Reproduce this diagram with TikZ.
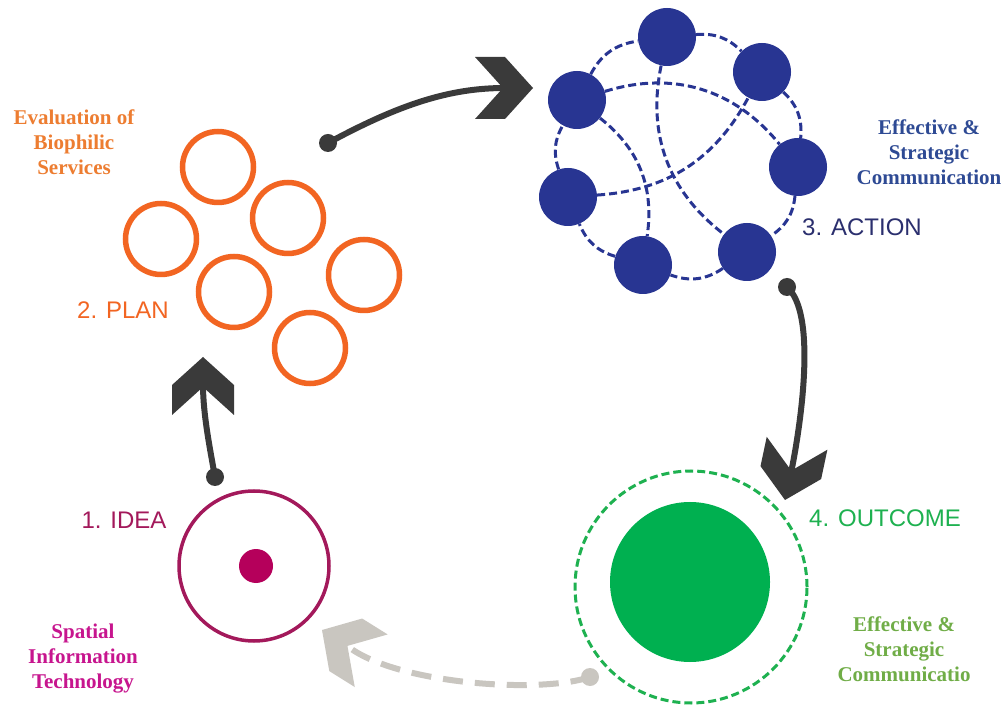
\documentclass[tikz,border=0pt]{standalone}
\usepackage{fontspec}
\setmainfont{Liberation Serif}
\newfontfamily\arialf{Liberation Sans}
\definecolor{orC}{HTML}{F26522}
\definecolor{orT}{HTML}{ED7D31}
\definecolor{navyC}{HTML}{283592}
\definecolor{navyT}{HTML}{2B2F6E}
\definecolor{blueT}{HTML}{2E4A94}
\definecolor{darkA}{HTML}{3A3A3A}
\definecolor{grayA}{HTML}{C9C6C0}
\definecolor{ideaC}{HTML}{A3195B}
\definecolor{dotC}{HTML}{B5005B}
\definecolor{greenC}{HTML}{1EB150}
\definecolor{greenF}{HTML}{00B050}
\definecolor{greenT}{HTML}{70AD47}
\definecolor{magT}{HTML}{C7158E}
\newcommand\chevshape[3]{%
  \fill[#3,shift={#1},rotate=#2] (0,0) -- (-28,31) -- (-58,31) -- (-30,0) -- (-58,-31) -- (-28,-31) -- cycle;}
\tikzset{
  ringO/.style={circle, draw=orC, line width=5.5pt, minimum size=71pt, inner sep=0pt},
  bnode/.style={circle, fill=navyC, minimum size=58pt, inner sep=0pt},
  bdash/.style={draw=navyC, line width=3pt, dash pattern=on 8pt off 4pt},
  lab/.style={align=center, inner sep=0pt, font=\bfseries\fontsize{21}{25}\selectfont},
  slab/.style={inner sep=0pt, font=\arialf\fontsize{24}{28}\selectfont},
  darrow/.style={draw=darkA, line width=6pt},
  startdot/.style={circle, inner sep=0pt, minimum size=18pt},
}
\begin{document}
\begin{tikzpicture}[x=1pt,y=1pt]
\useasboundingbox (0,0) rectangle (1008,704);
\fill[white] (0,0) rectangle (1008,704);

% PLAN circles
\node[ringO] (c1) at (218,537) {};
\node[ringO] (c2) at (161,465) {};
\node[ringO] (c3) at (288,486) {};
\node[ringO] (c4) at (234,412) {};
\node[ringO] (c5) at (364,429) {};
\node[ringO] (c6) at (310,356) {};

% ACTION network
\node[bnode] (n1) at (667,667) {};
\node[bnode] (n2) at (762,632) {};
\node[bnode] (n3) at (577,604) {};
\node[bnode] (n4) at (798,537) {};
\node[bnode] (n5) at (568,507) {};
\node[bnode] (n6) at (747,452) {};
\node[bnode] (n7) at (643,439) {};
\draw[bdash] (n1) to[bend left=25] (n2);
\draw[bdash] (n2) to[bend left=26] (n4);
\draw[bdash] (n4) to[bend left=25] (n6);
\draw[bdash] (n6) to[bend left=27] (n7);
\draw[bdash] (n7) to[bend left=25] (n5);
\draw[bdash] (n5) to[bend left=24] (n3);
\draw[bdash] (n3) to[bend left=27] (n1);
\draw[bdash] (n3) to[bend left=34] (n4);
\draw[bdash] (n5) to[bend right=29] (n2);
\draw[bdash] (n1) to[bend right=32] (n6);
\draw[bdash] (n3) to[bend left=30] (n7);

% IDEA
\node[circle, draw=ideaC, line width=3.5pt, minimum size=150pt, inner sep=0pt] (idea) at (254,138) {};
\node[circle, fill=dotC, minimum size=34pt, inner sep=0pt] (ideadot) at (256,138) {};

% OUTCOME
\node[circle, draw=greenC, line width=3pt, dash pattern=on 8pt off 4pt, minimum size=232pt, inner sep=0pt] (outc) at (691,117) {};
\node[circle, fill=greenF, minimum size=160pt, inner sep=0pt] (outf) at (690,122) {};

% Arrow 1: PLAN -> ACTION
\node[startdot, fill=darkA] (d1) at (328,561) {};
\coordinate (e1) at (505,616);
\draw[darrow] (d1.center) .. controls (400,600) and (450,616) .. (e1);
\chevshape{(533,616)}{0}{darkA}

% Arrow 2: IDEA -> PLAN
\node[startdot, fill=darkA] (d2) at (215,227) {};
\coordinate (e2) at (203,319);
\draw[darrow] (d2.center) .. controls (210,255) and (203,290) .. (e2);
\chevshape{(203,347)}{90}{darkA}

% Arrow 3: ACTION -> OUTCOME
\node[startdot, fill=darkA] (d3) at (787,417) {};
\coordinate (e3) at (791,231);
\draw[darrow] (d3.center) .. controls (818,390) and (800,275) .. (e3);
\chevshape{(785,204)}{-102}{darkA}

% Arrow 4: OUTCOME -> IDEA (dashed)
\node[startdot, fill=grayA] (d4) at (590,27) {};
\coordinate (e4) at (350,56);
\draw[draw=grayA, line width=6pt, dash pattern=on 20pt off 12pt] (d4.center) .. controls (540,10) and (400,20) .. (e4);
\chevshape{(322,74)}{148}{grayA}

% Labels
\node[lab, text=orT] (evalt) at (74,562) {Evaluation of\\Biophilic\\Services};
\node[lab, text=blueT] (efft) at (929,552) {Effective \&\\Strategic\\Communication};
\node[lab, text=magT] (spat) at (83,45) {Spatial\\Information\\Technology};
\node[lab, text=greenT] (efft2) at (904,55) {Effective \&\\Strategic\\Communicatio};
\node[slab, text=orC] (plan) at (123,394) {2. PLAN};
\node[slab, text=ideaC] (ideat) at (124,184) {1. IDEA};
\node[slab, text=navyT] (actt) at (862,477) {3. ACTION};
\node[slab, text=greenC] (outt) at (885,186) {4. OUTCOME};
\end{tikzpicture}
\end{document}
